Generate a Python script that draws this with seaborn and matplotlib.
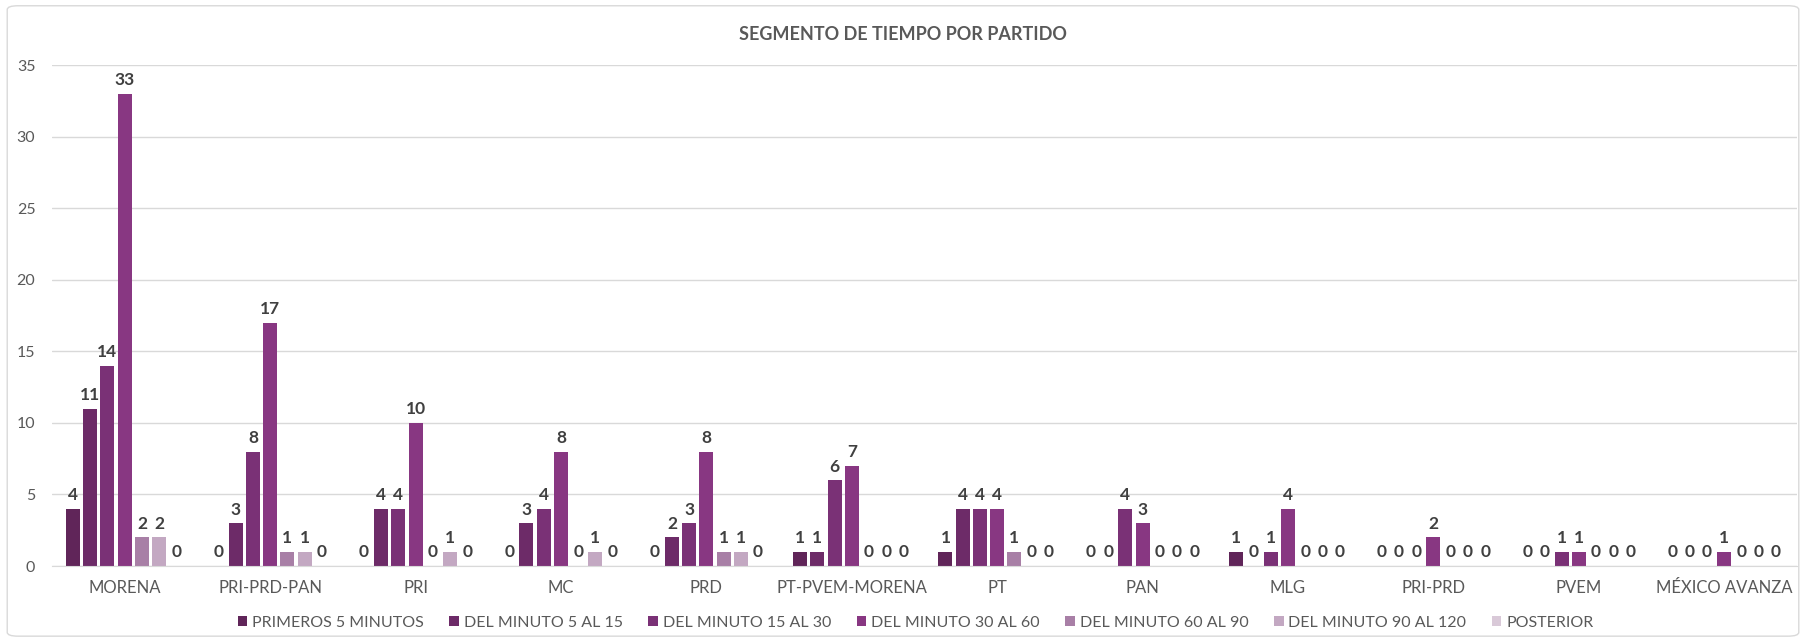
import pandas as pd
import numpy as np
import seaborn as sns
import matplotlib.pyplot as plt
from matplotlib.patches import FancyBboxPatch

sns.set_style('white')
plt.rcParams['font.family'] = ['Lato', 'DejaVu Sans']

partidos = ['MORENA', 'PRI-PRD-PAN', 'PRI', 'MC', 'PRD', 'PT-PVEM-MORENA', 'PT',
            'PAN', 'MLG', 'PRI-PRD', 'PVEM', 'MÉXICO AVANZA']
segmentos = ['PRIMEROS 5 MINUTOS', 'DEL MINUTO 5 AL 15', 'DEL MINUTO 15 AL 30',
             'DEL MINUTO 30 AL 60', 'DEL MINUTO 60 AL 90', 'DEL MINUTO 90 AL 120',
             'POSTERIOR']

primeros_5 = [4, 0, 0, 0, 0, 1, 1, 0, 1, 0, 0, 0]
min_5_15 = [11, 3, 4, 3, 2, 1, 4, 0, 0, 0, 0, 0]
min_15_30 = [14, 8, 4, 4, 3, 6, 4, 4, 1, 0, 1, 0]
min_30_60 = [33, 17, 10, 8, 8, 7, 4, 3, 4, 2, 1, 1]
min_60_90 = [2, 1, 0, 0, 1, 0, 1, 0, 0, 0, 0, 0]
min_90_120 = [2, 1, 1, 1, 1, 0, 0, 0, 0, 0, 0, 0]
posterior = [0, 0, 0, 0, 0, 0, 0, 0, 0, 0, 0, 0]

colores = ['#6A1B60', '#782072', '#862581', '#952A8E', '#AF78AC', '#C8A3C6', '#DCC6DA']

series = [primeros_5, min_5_15, min_15_30, min_30_60, min_60_90, min_90_120, posterior]
rows = []
for seg, vals in zip(segmentos, series):
    for p, v in zip(partidos, vals):
        rows.append({'partido': p, 'segmento': seg, 'valor': v})
df = pd.DataFrame(rows)

fig = plt.figure(figsize=(18.06, 6.4), dpi=100)
ax = fig.add_axes([52 / 1806, 0.1156, 1745 / 1806, 0.7828])

sns.barplot(data=df, x='partido', y='valor', hue='segmento', order=partidos,
            hue_order=segmentos, palette=colores, width=0.83, gap=0.19,
            linewidth=0, ax=ax)

for c in ax.containers:
    ax.bar_label(c, fmt='%d', padding=4, fontsize=12.5, fontweight='bold', color='#404040')

ax.set_ylim(0, 35)
ax.set_yticks(range(0, 36, 5))
ax.set_xlim(-0.5, len(partidos) - 0.5)
ax.yaxis.grid(True, color='#D9D9D9', linewidth=1)
ax.set_axisbelow(True)
for s in ['top', 'right', 'left']:
    ax.spines[s].set_visible(False)
ax.spines['bottom'].set_color('#D9D9D9')
ax.tick_params(axis='both', length=0, labelsize=11.5, colors='#595959')
ax.tick_params(axis='x', pad=10, labelsize=12)
ax.tick_params(axis='y', pad=12)
ax.set_xlabel('')
ax.set_ylabel('')

handles, labels = ax.get_legend_handles_labels()
ax.get_legend().remove()
fig.legend(handles, labels, loc='center', bbox_to_anchor=(0.507, 1 - 623 / 640), ncol=7,
           frameon=False, fontsize=11.5, handlelength=0.6, handleheight=0.6,
           handletextpad=0.3, columnspacing=1.6, labelcolor='#595959')

fig.text(0.5, 1 - 35 / 640, 'SEGMENTO DE TIEMPO POR PARTIDO', ha='center', va='center',
         fontsize=13, fontweight='bold', color='#595959')

border = FancyBboxPatch((0.004, 0.006), 0.992, 0.985, boxstyle='round,pad=0,rounding_size=0.006',
                        transform=fig.transFigure, fill=False, edgecolor='#D9D9D9', linewidth=1)
fig.patches.append(border)

fig.savefig('out.png', dpi=100)
